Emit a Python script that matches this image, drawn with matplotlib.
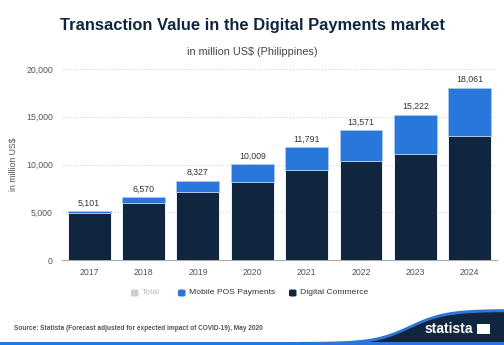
import numpy as np
import matplotlib.pyplot as plt
from matplotlib.patches import Polygon, Rectangle, FancyBboxPatch

years = ['2017', '2018', '2019', '2020', '2021', '2022', '2023', '2024']
totals = [5101, 6570, 8327, 10009, 11791, 13571, 15222, 18061]
digital_commerce = [4880, 5940, 7090, 8200, 9420, 10370, 11130, 12980]
mobile_pos = [t - d for t, d in zip(totals, digital_commerce)]

NAVY = '#10263e'
BLUE = '#2a77dc'

plt.rcParams['font.family'] = ['Liberation Sans', 'DejaVu Sans']

fig = plt.figure(figsize=(5.04, 3.45), dpi=100)
ax = fig.add_axes([0.123, 0.246, 0.863, 0.554])

x = np.arange(len(years))
ax.bar(x, digital_commerce, width=0.79, color=NAVY, edgecolor='white', linewidth=0.6, zorder=3)
ax.bar(x, mobile_pos, width=0.79, bottom=digital_commerce, color=BLUE,
       edgecolor='#a9c8ef', linewidth=0.6, zorder=3)

for xi, t in zip(x, totals):
    ax.text(xi, t + 400, f'{t:,}', ha='center', va='bottom', fontsize=6.3, color='#333333')

ax.set_xlim(-0.5, 7.5)
ax.set_ylim(0, 20000)
ax.set_yticks([0, 5000, 10000, 15000, 20000])
ax.set_yticklabels([f'{v:,}' for v in [0, 5000, 10000, 15000, 20000]])
ax.set_xticks(x)
ax.set_xticklabels(years)
ax.tick_params(axis='both', length=0, labelsize=6.3, colors='#555555')
ax.tick_params(axis='y', pad=6.5)
ax.tick_params(axis='x', pad=6)
ax.grid(axis='y', linestyle=(0, (1, 2)), color='#cccccc', linewidth=0.7, zorder=0)
for s in ['top', 'right', 'left']:
    ax.spines[s].set_visible(False)
ax.spines['bottom'].set_color('#aaaaaa')
ax.spines['bottom'].set_linewidth(0.8)
ax.set_ylabel('in million US$', fontsize=6.3, color='#555555')
ax.yaxis.set_label_coords(-0.1, 0.5)

fig.text(0.5, 0.925, 'Transaction Value in the Digital Payments market', ha='center', va='center',
         fontsize=11.9, fontweight='bold', color='#10263e')
fig.text(0.5, 0.849, 'in million US$ (Philippines)', ha='center', va='center',
         fontsize=7.8, color='#444444')

# legend
ly = 1 - 293 / 345
items = [('Total', '#cccccc', '#bbbbbb', 131), ('Mobile POS Payments', BLUE, '#333333', 178),
         ('Digital Commerce', NAVY, '#333333', 289)]
for label, col, tcol, px in items:
    fig.patches.append(FancyBboxPatch((px / 504, ly - 3.5 / 345), 7.5 / 504, 7 / 345,
                                      boxstyle='round,pad=0,rounding_size=0.004',
                                      transform=fig.transFigure, facecolor=col, edgecolor='none'))
    fig.text((px + 11) / 504, ly, label, ha='left', va='center', fontsize=6.1, color=tcol)

# footer
fig.text(14 / 504, 1 - 329 / 345, 'Source: Statista (Forecast adjusted for expected impact of COVID-19), May 2020',
         ha='left', va='center', fontsize=4.7, fontweight='bold', color='#555555')
xs = np.linspace(300, 504, 60)
curve = 345 - (345 - 312) * (1 / (1 + np.exp(-(xs - 410) / 18)))
pts_blue = [(px / 504, 1 - py / 345) for px, py in zip(xs, curve - 3)] + [(1, 0), (300 / 504, 0)]
fig.patches.append(Polygon(pts_blue, closed=True, transform=fig.transFigure, facecolor=BLUE, edgecolor='none'))
pts = [(px / 504, 1 - py / 345) for px, py in zip(xs, curve)] + [(1, 0), (300 / 504, 0)]
fig.patches.append(Polygon(pts, closed=True, transform=fig.transFigure, facecolor=NAVY, edgecolor='none'))
fig.patches.append(Rectangle((0, 0), 1, 3 / 345, transform=fig.transFigure, facecolor=BLUE, edgecolor='none'))
fig.text(425 / 504, 1 - 329 / 345, 'statista', ha='left', va='center', fontsize=10, fontweight='bold', color='white')
fig.patches.append(Rectangle((477 / 504, 1 - 334 / 345), 13 / 504, 10 / 345, transform=fig.transFigure,
                             facecolor='white', edgecolor='none'))

fig.savefig('out.png', dpi=100)
